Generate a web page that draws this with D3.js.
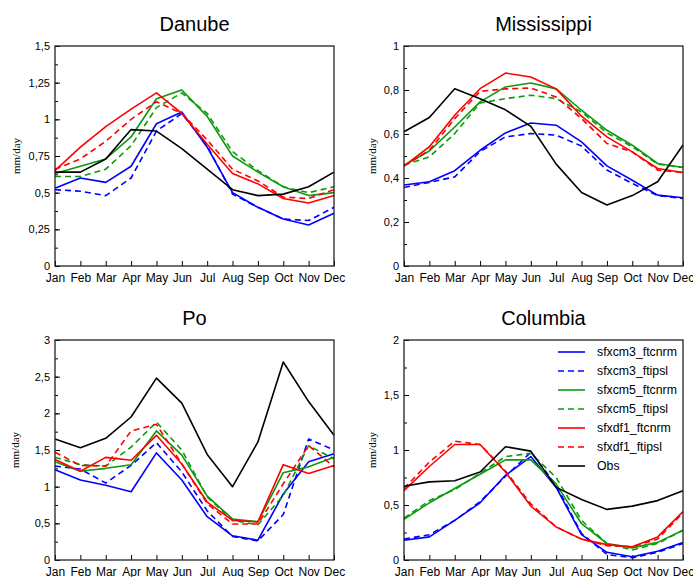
<!DOCTYPE html>
<html>
<head>
<meta charset="utf-8">
<script src="https://cdn.jsdelivr.net/npm/d3@7/dist/d3.min.js"></script>
<style>
  body { margin: 0; background: #fff; }
  svg { display: block; font-family: "Liberation Sans", Arial, sans-serif; }
  .title { font-size: 20px; }
  .ylab { font-family: "Liberation Serif", "Times New Roman", serif; font-size: 11px; }
  .yaxis text { font-size: 11px; }
  .xaxis text { font-size: 12px; }
  .legend text { font-size: 12.3px; }
</style>
</head>
<body>
<div id="chart"></div>
<script>
var months = ["Jan", "Feb", "Mar", "Apr", "May", "Jun", "Jul", "Aug", "Sep", "Oct", "Nov", "Dec"];

var seriesNames = ["sfxcm3_ftcnrm", "sfxcm3_ftipsl", "sfxcm5_ftcnrm", "sfxcm5_ftipsl",
                   "sfxdf1_ftcnrm", "sfxdf1_ftipsl", "Obs"];

// rows follow seriesNames order
var danube = [
  [0.53, 0.60, 0.57, 0.68, 0.97, 1.05, 0.81, 0.50, 0.40, 0.32, 0.28, 0.36],
  [0.52, 0.51, 0.48, 0.60, 0.92, 1.04, 0.82, 0.49, 0.40, 0.32, 0.31, 0.40],
  [0.63, 0.68, 0.73, 0.88, 1.14, 1.20, 1.02, 0.75, 0.64, 0.54, 0.48, 0.50],
  [0.61, 0.61, 0.66, 0.82, 1.08, 1.18, 1.04, 0.78, 0.65, 0.54, 0.50, 0.54],
  [0.65, 0.81, 0.95, 1.07, 1.18, 1.04, 0.83, 0.63, 0.56, 0.46, 0.43, 0.48],
  [0.66, 0.73, 0.85, 1.00, 1.12, 1.04, 0.86, 0.66, 0.58, 0.47, 0.46, 0.52],
  [0.64, 0.64, 0.73, 0.93, 0.92, 0.80, 0.66, 0.52, 0.48, 0.49, 0.54, 0.64]
];

var mississippi = [
  [0.368, 0.383, 0.433, 0.526, 0.605, 0.650, 0.640, 0.564, 0.455, 0.390, 0.322, 0.310],
  [0.357, 0.380, 0.405, 0.520, 0.587, 0.602, 0.595, 0.545, 0.436, 0.375, 0.320, 0.307],
  [0.458, 0.523, 0.632, 0.746, 0.814, 0.832, 0.805, 0.708, 0.617, 0.549, 0.466, 0.448],
  [0.458, 0.496, 0.602, 0.741, 0.761, 0.776, 0.761, 0.700, 0.605, 0.542, 0.463, 0.448],
  [0.454, 0.542, 0.685, 0.806, 0.877, 0.859, 0.805, 0.681, 0.587, 0.519, 0.443, 0.425],
  [0.454, 0.526, 0.670, 0.794, 0.805, 0.809, 0.768, 0.670, 0.557, 0.519, 0.436, 0.425],
  [0.610, 0.675, 0.806, 0.760, 0.710, 0.635, 0.463, 0.334, 0.277, 0.320, 0.383, 0.550]
];

var po = [
  [1.23, 1.09, 1.02, 0.93, 1.46, 1.09, 0.59, 0.33, 0.27, 0.90, 1.34, 1.45],
  [1.28, 1.24, 1.05, 1.29, 1.60, 1.20, 0.67, 0.32, 0.26, 0.62, 1.65, 1.50],
  [1.34, 1.21, 1.25, 1.30, 1.76, 1.43, 0.87, 0.56, 0.52, 1.19, 1.27, 1.40],
  [1.40, 1.30, 1.28, 1.54, 1.88, 1.50, 0.86, 0.54, 0.48, 0.88, 1.56, 1.38],
  [1.37, 1.21, 1.40, 1.36, 1.70, 1.31, 0.79, 0.54, 0.52, 1.30, 1.18, 1.29],
  [1.47, 1.29, 1.28, 1.76, 1.85, 1.31, 0.77, 0.49, 0.49, 1.04, 1.56, 1.27],
  [1.65, 1.53, 1.66, 1.95, 2.48, 2.14, 1.44, 1.00, 1.61, 2.70, 2.16, 1.70]
];

var columbia = [
  [0.18, 0.21, 0.36, 0.52, 0.77, 0.94, 0.66, 0.23, 0.07, 0.03, 0.08, 0.16],
  [0.19, 0.23, 0.36, 0.53, 0.76, 0.98, 0.68, 0.24, 0.05, 0.02, 0.07, 0.15],
  [0.37, 0.52, 0.65, 0.78, 0.91, 0.91, 0.69, 0.33, 0.15, 0.11, 0.16, 0.27],
  [0.38, 0.54, 0.64, 0.79, 0.94, 0.97, 0.75, 0.36, 0.15, 0.09, 0.15, 0.27],
  [0.63, 0.85, 1.05, 1.05, 0.80, 0.49, 0.30, 0.19, 0.14, 0.12, 0.21, 0.44],
  [0.65, 0.89, 1.08, 1.05, 0.81, 0.51, 0.30, 0.19, 0.13, 0.12, 0.19, 0.43],
  [0.67, 0.71, 0.72, 0.80, 1.03, 0.99, 0.66, 0.55, 0.46, 0.49, 0.54, 0.63]
];

var colors = ["#0000ff", "#0000ff", "#0a9a0a", "#0a9a0a", "#ff0000", "#ff0000", "#000000"];
var dashed = [false, true, false, true, false, true, false];

var svgWidth = 693;
var svgHeight = 577;

var svg = d3.select("#chart")
  .append("svg")
  .attr("width", svgWidth)
  .attr("height", svgHeight);

// one entry per panel
var panels = [
  { title: "Danube", data: danube, left: 55, top: 46, ymax: 1.5, major: 0.25, minor: 0.125, labOff: 39 },
  { title: "Mississippi", data: mississippi, left: 404, top: 46, ymax: 1, major: 0.2, minor: 0.1, labOff: 32 },
  { title: "Po", data: po, left: 55, top: 340, ymax: 3, major: 0.5, minor: 0.25, labOff: 40 },
  { title: "Columbia", data: columbia, left: 404, top: 340, ymax: 2, major: 0.5, minor: 0.25, labOff: 32, legend: true }
];

var width = 279;
var height = 220;

function fmt(d) {
  return String(+d.toFixed(3)).replace(".", ",");
}

panels.forEach(function(p) {
  var g = svg.append("g")
    .attr("transform", `translate(${p.left}, ${p.top})`);

  var x = d3.scalePoint().domain(months).range([0, width]);
  var y = d3.scaleLinear().domain([0, p.ymax]).range([height, 0]);

  // minor ticks
  g.append("g")
    .call(d3.axisLeft(y).tickValues(d3.range(0, p.ymax + 1e-9, p.minor)).tickSize(-3).tickFormat(""))
    .call(s => s.select(".domain").remove())
    .selectAll("line").attr("stroke", "#000");

  // major ticks + labels
  g.append("g")
    .attr("class", "yaxis")
    .call(d3.axisLeft(y).tickValues(d3.range(0, p.ymax + 1e-9, p.major)).tickSize(-5).tickPadding(5).tickFormat(fmt))
    .call(s => s.select(".domain").remove())
    .call(s => s.selectAll("text").attr("fill", "#000"));

  g.append("g")
    .attr("class", "xaxis")
    .attr("transform", `translate(0, ${height})`)
    .call(d3.axisBottom(x).tickSize(-5).tickPadding(7))
    .call(s => s.select(".domain").remove())
    .call(s => s.selectAll("text").attr("fill", "#000"));

  var line = d3.line()
    .x((d, i) => x(months[i]))
    .y(d => y(d));

  g.selectAll(".series")
    .data(p.data)
    .enter()
    .append("path")
    .attr("class", "series")
    .attr("d", d => line(d))
    .attr("fill", "none")
    .attr("stroke", (d, i) => colors[i])
    .attr("stroke-width", 1.6)
    .attr("stroke-dasharray", (d, i) => dashed[i] ? "6,4" : null)
    .attr("stroke-linejoin", "round");

  g.append("rect")
    .attr("width", width)
    .attr("height", height)
    .attr("fill", "none")
    .attr("stroke", "#222")
    .attr("stroke-width", 1.3);

  svg.append("text")
    .attr("class", "title")
    .attr("x", p.left + width / 2)
    .attr("y", p.top - 15)
    .attr("text-anchor", "middle")
    .text(p.title);

  g.append("text")
    .attr("class", "ylab")
    .attr("transform", "rotate(-90)")
    .attr("x", -height / 2)
    .attr("y", -p.labOff)
    .attr("dy", "0.35em")
    .attr("text-anchor", "middle")
    .text("mm/day");

  if (p.legend) {
    var lg = g.append("g")
      .attr("class", "legend")
      .attr("transform", "translate(154, 12)");
    seriesNames.forEach(function(name, i) {
      var row = lg.append("g").attr("transform", `translate(0, ${i * 19})`);
      row.append("line")
        .attr("x1", 0).attr("x2", 27)
        .attr("stroke", colors[i])
        .attr("stroke-width", 1.6)
        .attr("stroke-dasharray", dashed[i] ? "6,4" : null);
      row.append("text")
        .attr("x", 39)
        .attr("dy", "0.35em")
        .text(name);
    });
  }
});
</script>
</body>
</html>
